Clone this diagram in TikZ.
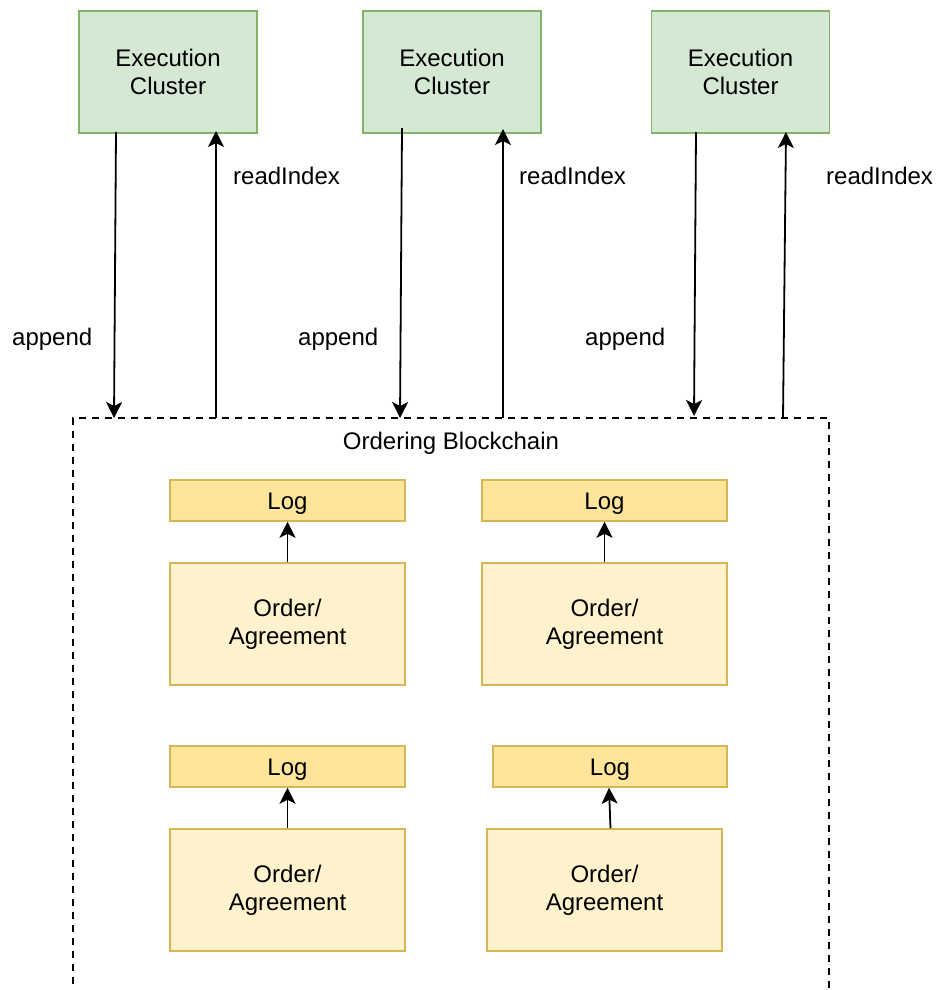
\documentclass[tikz,border=0pt]{standalone}
\usepackage{fontspec}
\setmainfont{Liberation Sans}
\usetikzlibrary{arrows.meta}
\definecolor{exfill}{HTML}{D5E8D4}
\definecolor{exdraw}{HTML}{82B366}
\definecolor{logfill}{HTML}{FFE599}
\definecolor{ordfill}{HTML}{FFF2CC}
\definecolor{ylwdraw}{HTML}{D6B656}
\tikzset{
  txt/.style={font=\fontsize{24}{28}\selectfont},
  exbox/.style={txt, draw=exdraw, fill=exfill, line width=1.5pt, minimum width=178pt, minimum height=122pt, inner sep=0pt, align=center},
  logbox/.style={txt, draw=ylwdraw, fill=logfill, line width=1.5pt, minimum height=41pt, inner sep=0pt, align=center, text height=23pt, text depth=5pt},
  ordbox/.style={txt, draw=ylwdraw, fill=ordfill, line width=1.5pt, minimum height=122pt, inner sep=0pt, align=center},
  lbl/.style={txt, inner sep=0pt, anchor=west},
  arr/.style={line width=1.8pt, -{Stealth[length=16pt, width=16pt, inset=4pt]}},
  dbox/.style={draw, line width=1.5pt, dash pattern=on 7pt off 6pt},
}
\begin{document}
\begin{tikzpicture}[x=1pt, y=-1pt]
\useasboundingbox (0,0) rectangle (939,990);
\clip (0,0) rectangle (939,990);

% dashed container
\draw[dbox] (73,1010) -- (73,418) -- (829,418) -- (829,1010);
\node[txt, inner sep=0pt] (ob) at (451,443) {Ordering Blockchain};

% execution clusters
\node[exbox] (e1) at (168,72) {Execution\\Cluster};
\node[exbox] (e2) at (452,72) {Execution\\Cluster};
\node[exbox] (e3) at (740.5,72) {Execution\\Cluster};

% arrow end coordinates
\coordinate (d1s) at (116,132); \coordinate (d1e) at (114,418);
\coordinate (u1s) at (216,418); \coordinate (u1e) at (216,131);
\coordinate (d2s) at (402,128); \coordinate (d2e) at (400,418);
\coordinate (u2s) at (503,418); \coordinate (u2e) at (503,129);
\coordinate (d3s) at (696,132); \coordinate (d3e) at (694,416);
\coordinate (u3s) at (783,418); \coordinate (u3e) at (786,132);

\draw[arr] (d1s) -- (d1e);
\draw[arr] (u1s) -- (u1e);
\draw[arr] (d2s) -- (d2e);
\draw[arr] (u2s) -- (u2e);
\draw[arr] (d3s) -- (d3e);
\draw[arr] (u3s) -- (u3e);

\node[lbl] (r1) at (233,176) {readIndex};
\node[lbl] (r2) at (519,176) {readIndex};
\node[lbl] (r3) at (826,176) {readIndex};
\node[lbl] (a1) at (12,339) {append};
\node[lbl] (a2) at (298,339) {append};
\node[lbl] (a3) at (585,339) {append};

% logs and order/agreement
\node[logbox, minimum width=235pt] (l1) at (287.5,500.5) {Log};
\node[logbox, minimum width=245pt] (l2) at (604.5,500.5) {Log};
\node[logbox, minimum width=235pt] (l3) at (287.5,766.5) {Log};
\node[logbox, minimum width=234pt] (l4) at (610,766.5) {Log};

\node[ordbox, minimum width=235pt] (o1) at (287.5,624) {Order/\\Agreement};
\node[ordbox, minimum width=245pt] (o2) at (604.5,624) {Order/\\Agreement};
\node[ordbox, minimum width=235pt] (o3) at (287.5,890) {Order/\\Agreement};
\node[ordbox, minimum width=235pt] (o4) at (604.5,890) {Order/\\Agreement};

\draw[arr] (o1.north) -- (l1.south);
\draw[arr] (o2.north) -- (l2.south);
\draw[arr] (o3.north) -- (l3.south);
\draw[arr] ([xshift=6pt]o4.north) -- ([xshift=-1pt]l4.south);
\end{tikzpicture}
\end{document}
